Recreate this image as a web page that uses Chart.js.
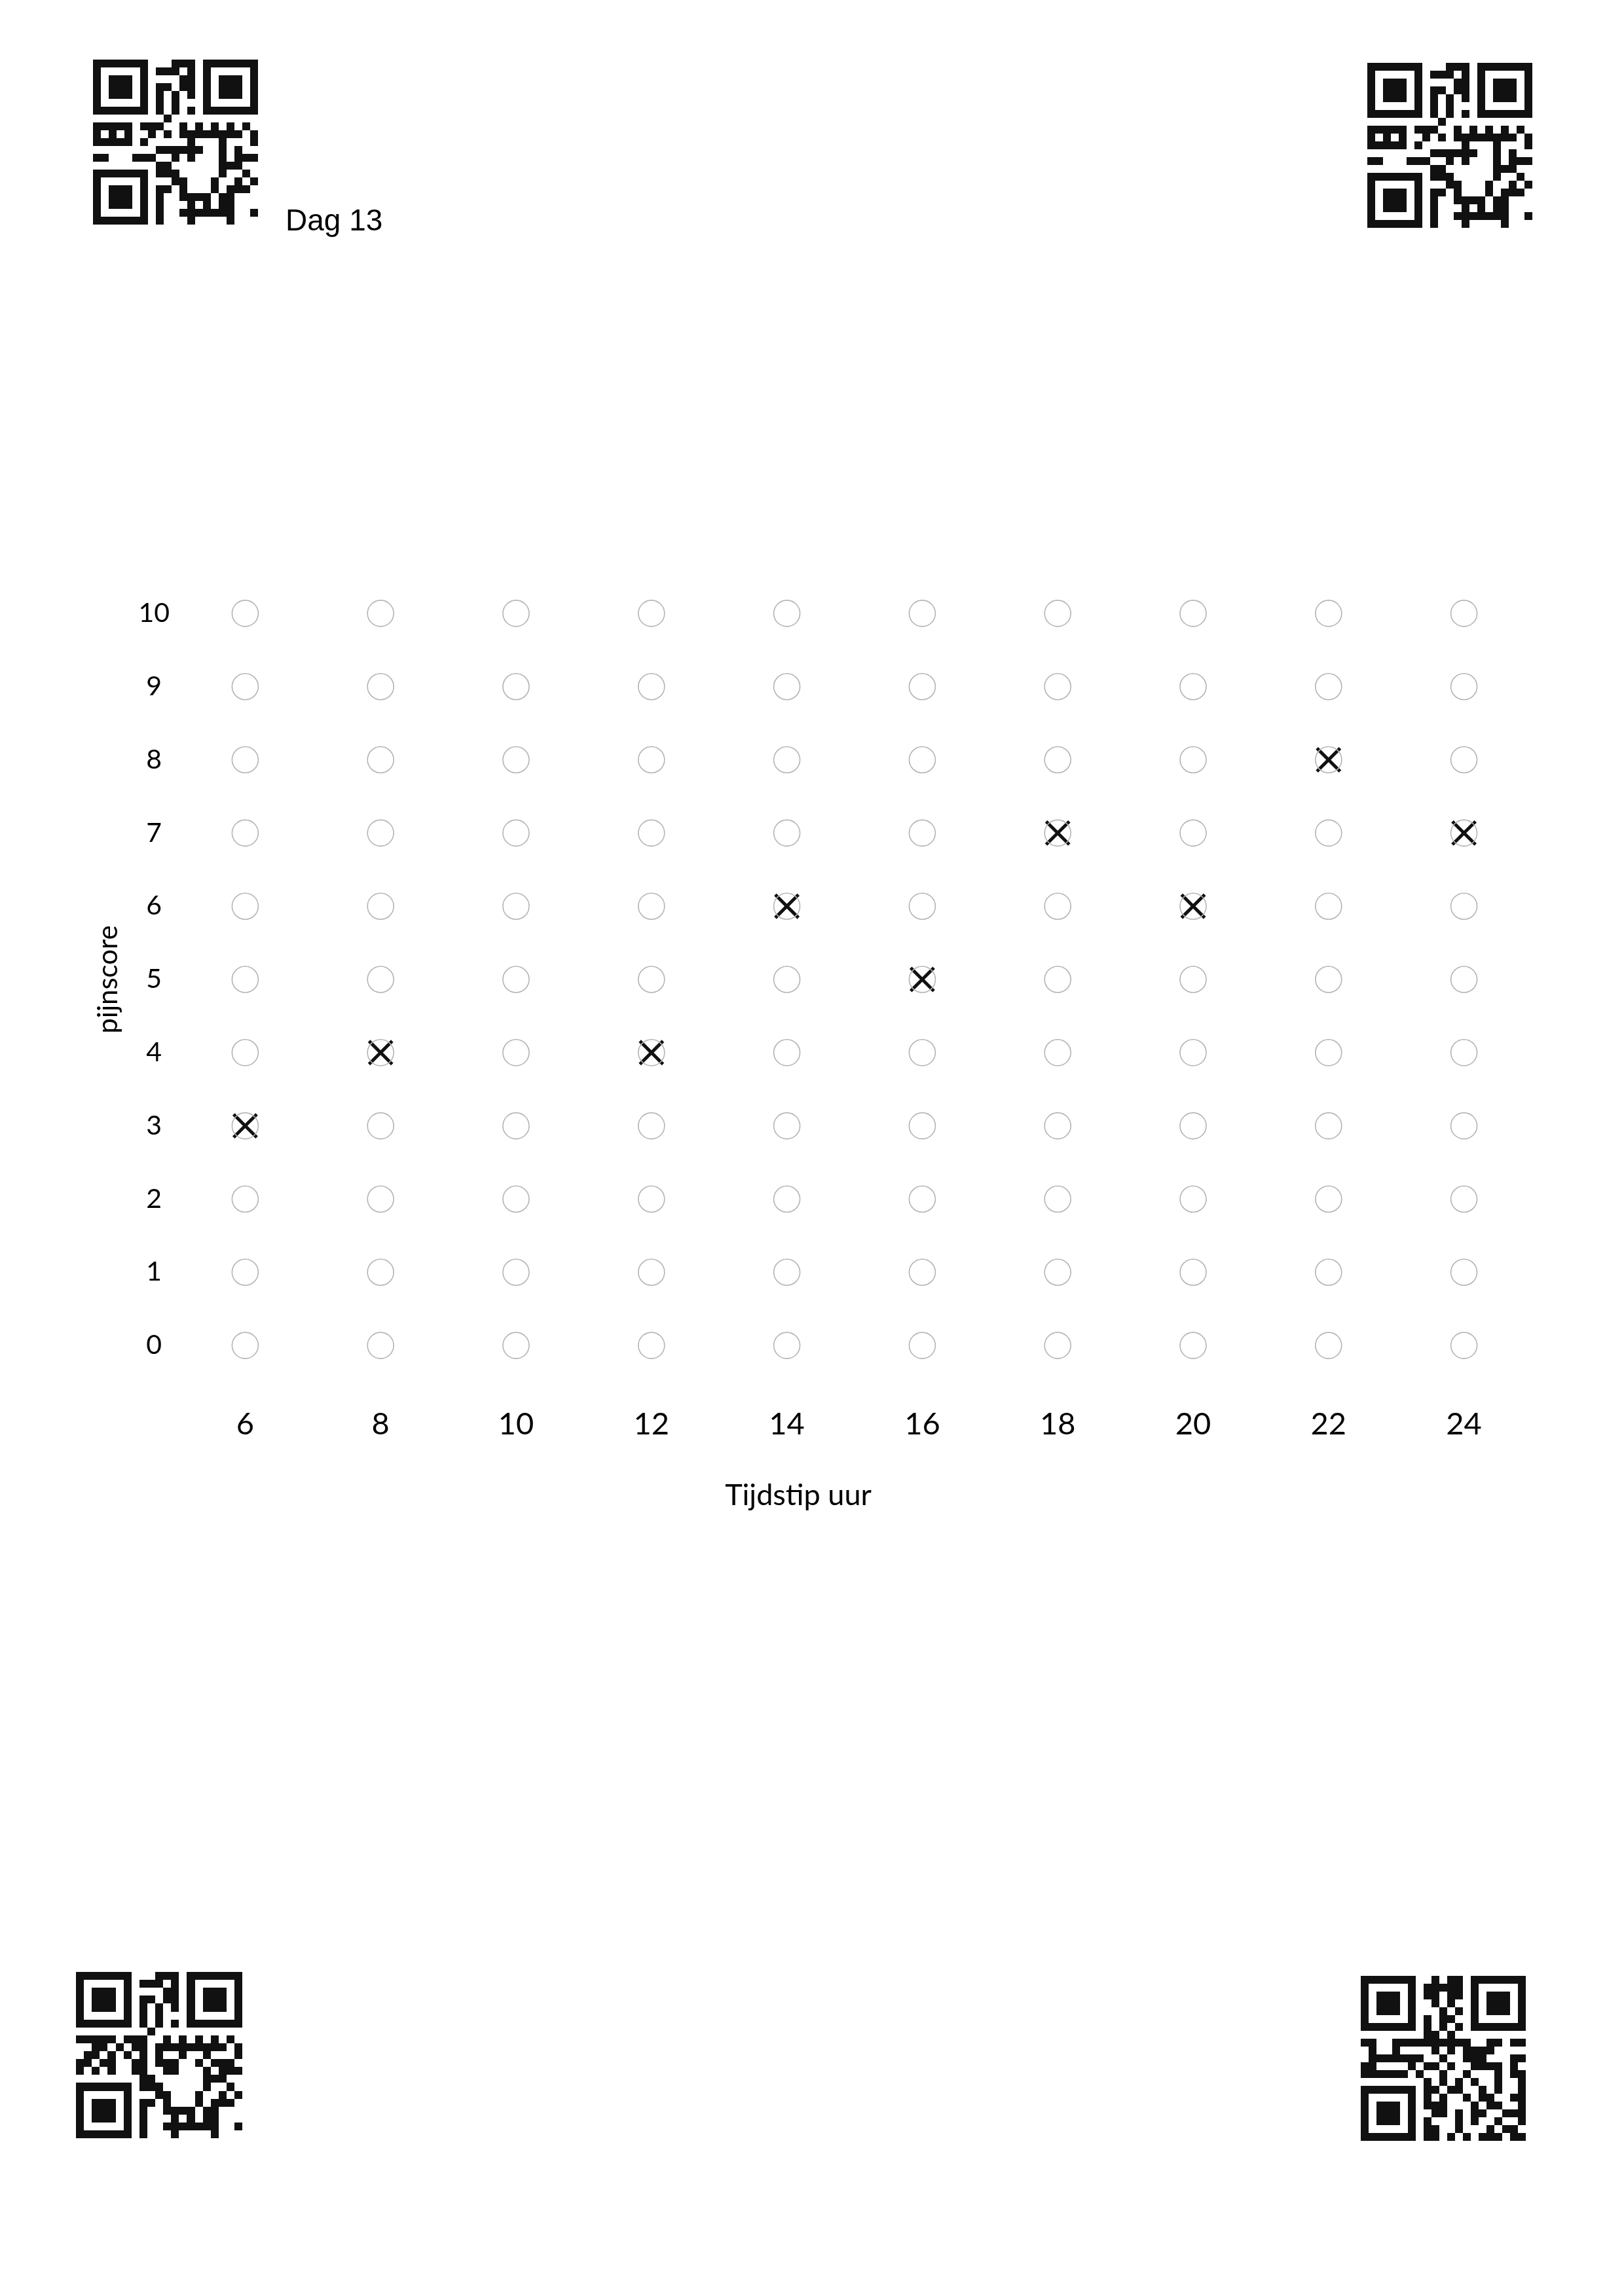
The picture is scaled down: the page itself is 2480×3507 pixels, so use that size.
<!DOCTYPE html>
<html><head><meta charset="utf-8">
<script src="https://cdn.jsdelivr.net/npm/chart.js@4/dist/chart.umd.min.js"></script>
<style>
html,body{margin:0;padding:0;background:#fff;}
#page{position:relative;width:2480px;height:3507px;overflow:hidden;background:#fff;}
#c{position:absolute;left:0;top:0;}
.txt{position:absolute;white-space:nowrap;color:#000;}
</style></head><body>
<div id="page">
<canvas id="c" width="2480" height="3507"></canvas>
<div class="txt" id="dag" style="left:436px;top:313px;font:46px/46px 'Liberation Sans',Arial,sans-serif;"></div>
<div class="txt" id="xt" style="left:1219px;top:2255px;transform:translateX(-50%);font:45px/54px Lato,sans-serif;"></div>
</div>
<script>
// ---- data ----
const pageTitle = 'Dag 13';
const xTitle = 'Tijdstip uur';
const yTitle = 'pijnscore';
const hourTicks = [6, 8, 10, 12, 14, 16, 18, 20, 22, 24];
const scoreTicks = [0, 1, 2, 3, 4, 5, 6, 7, 8, 9, 10];
const markedHours = [6, 8, 12, 14, 16, 18, 20, 22, 24];
const markedScores = [3, 4, 4, 6, 5, 7, 6, 8, 7];

// ---- decorative QR codes (approximate) ----
const qrA = [
"111111100011101111111","100000101110101000001","101110100001101011101","101110101101101011101",
"101110101010101011101","100000101010001000001","111111101010101111111","000000000100000000000",
"111110111001010101010","101010010101111111101","111110100000100010001","000000001111110010100",
"110001110010100010111","000000001100000011100","111111101110000010010","100000100011000100101",
"101110101101000101110","101110101001111011000","101110101000101011000","100000101001111111001",
"111111101000100001000"];
const qrB = qrA.slice();
qrB[9]  = "001101011011111111101";
qrB[10] = "011010101010010010001";
qrB[11] = "110110011011100101110";
qrB[12] = "101010011001100010111";
const qrC = [
"111111100101101111111","100000101111101000001","101110101101101011101","101110100101001011101",
"101110100010101011101","100000101011001000001","111111101010101111111","000000001101000000000",
"110011111111110011011","010010000101011110000","011111110010011100011","110000101101001111010",
"111111010010010001011","000000001010101001001","111111101101100101001","100000101010010110011",
"101110101110001011001","101110100110101100111","101110101000101001001","100000101100100010110",
"111111101101010111011"];

function drawQR(rows, left, top, mod) {
  const ns = 'http://www.w3.org/2000/svg';
  const svg = document.createElementNS(ns, 'svg');
  svg.setAttribute('width', 21 * mod);
  svg.setAttribute('height', 21 * mod);
  svg.setAttribute('shape-rendering', 'crispEdges');
  svg.style.position = 'absolute';
  svg.style.left = left + 'px';
  svg.style.top = top + 'px';
  let d = '';
  rows.forEach((row, r) => {
    for (let c = 0; c < 21; c++) if (row[c] === '1') d += `M${c*mod} ${r*mod}h${mod}v${mod}h${-mod}z`;
  });
  const p = document.createElementNS(ns, 'path');
  p.setAttribute('d', d);
  p.setAttribute('fill', '#111');
  svg.appendChild(p);
  document.getElementById('page').appendChild(svg);
}
drawQR(qrA, 142, 91, 12);
drawQR(qrA, 2088, 96, 12);
drawQR(qrB, 116, 3012, 12.1);
drawQR(qrC, 2078, 3018, 12);

document.getElementById('dag').textContent = pageTitle;
document.getElementById('xt').textContent = xTitle;

// ---- chart ----
const gridPoints = [];
hourTicks.forEach(h => scoreTicks.forEach(s => gridPoints.push({x: h, y: s})));
const marks = markedHours.map((h, i) => ({x: h, y: markedScores[i]}));

new Chart(document.getElementById('c'), {
  type: 'scatter',
  data: {
    datasets: [
      { label: 'raster', data: gridPoints, pointStyle: 'circle', pointRadius: 20,
        borderWidth: 1.6, borderColor: '#b4b4b4', backgroundColor: 'rgba(0,0,0,0)', clip: false },
      { label: yTitle, data: marks, pointStyle: 'crossRot', pointRadius: 25,
        borderWidth: 5, borderColor: '#111', backgroundColor: '#111', clip: false }
    ]
  },
  options: {
    responsive: false, animation: false, devicePixelRatio: 1, events: [],
    layout: { padding: { left: 0, top: 881, right: 141, bottom: 1196 } },
    plugins: { legend: { display: false }, tooltip: { enabled: false } },
    scales: {
      x: {
        type: 'linear', min: 5, max: 25,
        grid: { display: false, drawTicks: false }, border: { display: false },
        afterBuildTicks: s => { s.ticks = hourTicks.map(v => ({ value: v })); },
        ticks: { font: { family: 'Lato', size: 47 }, color: '#000', padding: 37, autoSkip: false, maxRotation: 0 },
        afterFit: s => { s.height = 200; }
      },
      y: {
        type: 'linear', min: -0.5, max: 10.5,
        grid: { display: false, drawTicks: false }, border: { display: false },
        afterBuildTicks: s => { s.ticks = scoreTicks.map(v => ({ value: v })); },
        ticks: { font: { family: 'Lato', size: 41 }, color: '#000', padding: 12, crossAlign: 'center', autoSkip: false },
        title: { display: true, text: yTitle, font: { family: 'Lato', size: 42 }, color: '#000', padding: { top: 140, bottom: 0 } },
        afterFit: s => { s.width = 271; }
      }
    }
  }
});
</script>
</body></html>
